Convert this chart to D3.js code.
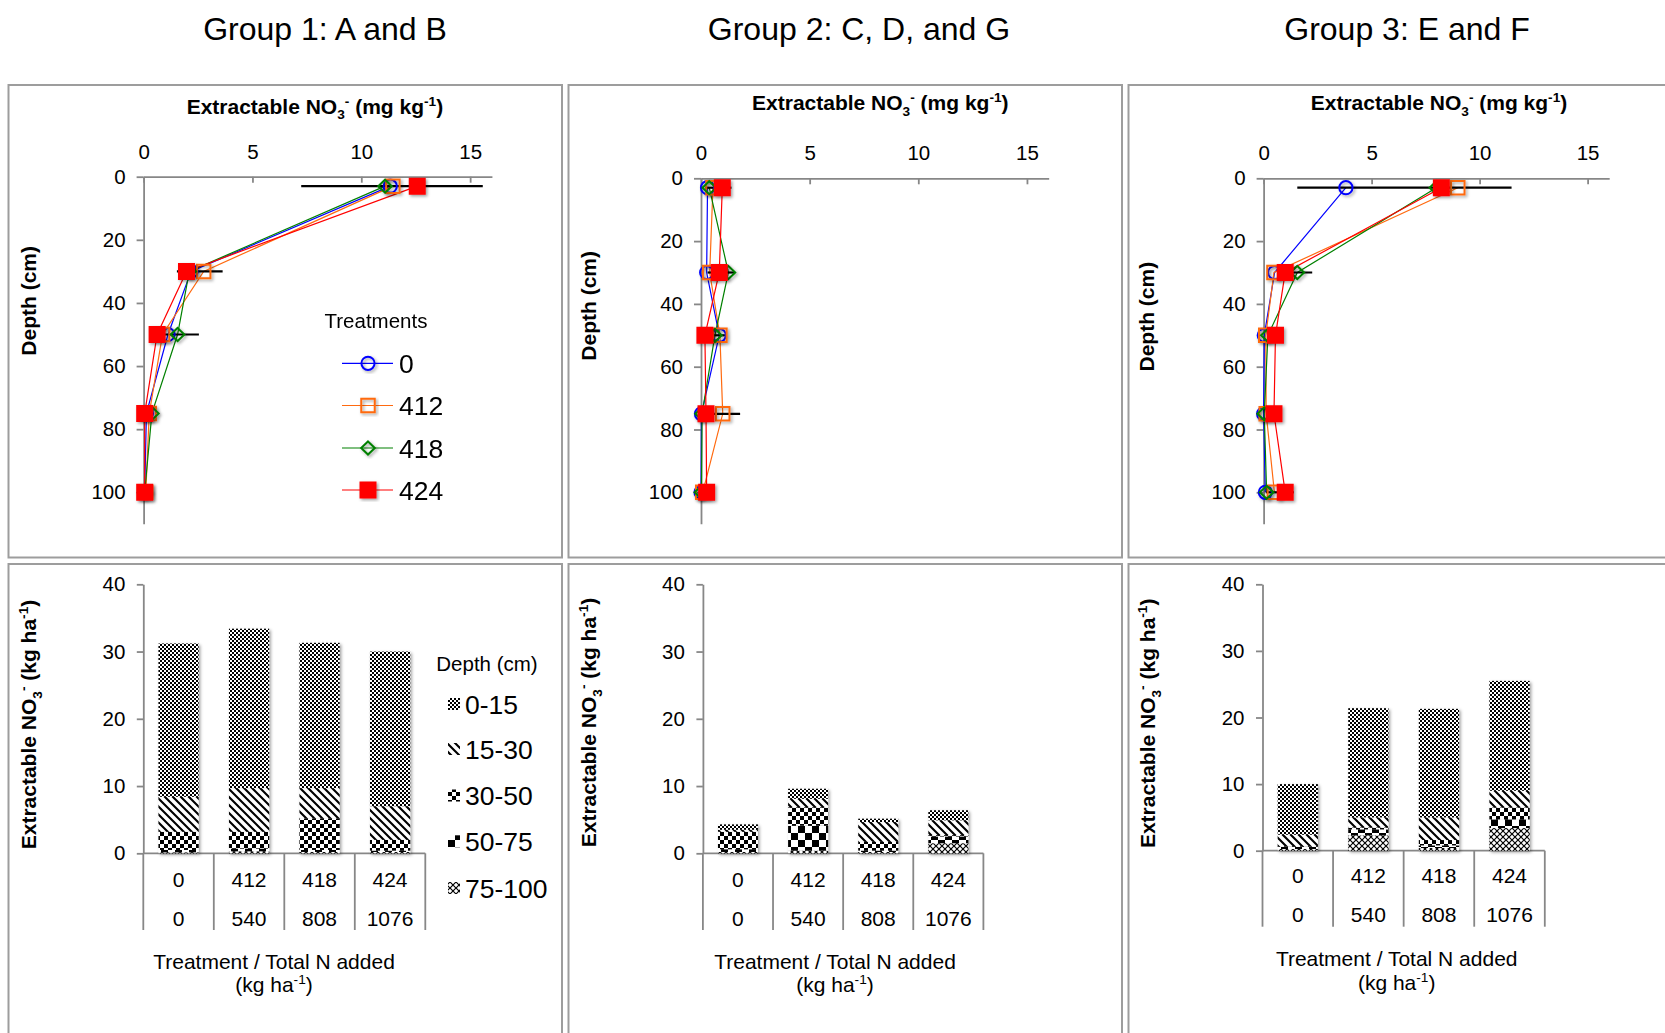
<!DOCTYPE html>
<html><head><meta charset="utf-8">
<script src="https://cdn.jsdelivr.net/npm/d3@7"></script>
<style>
html,body{margin:0;padding:0;background:#fff;}
svg{display:block;font-family:"Liberation Sans",Arial,Helvetica,sans-serif;}
</style></head><body>
<svg id="chart" width="1665" height="1033"></svg>
<script>
// ---------------- data ----------------
const groupTitles = ["Group 1: A and B", "Group 2: C, D, and G", "Group 3: E and F"];
const treatments = ["0", "412", "418", "424"];
const totalNAdded = ["0", "540", "808", "1076"];
const sampleDepths = [3, 30, 50, 75, 100];
const depthLayers = ["0-15", "15-30", "30-50", "50-75", "75-100"];
const depthTicks = [0, 20, 40, 60, 80, 100];
const no3Ticks = [0, 5, 10, 15];
const stockTicks = [0, 10, 20, 30, 40];

// NO3- concentration (mg kg-1): one row per treatment, one value per sample depth
const profileG1 = [
  [11.33, 2.18, 1.12, 0.13, 0.05],
  [11.45, 2.76, 0.87, 0.26, 0.10],
  [11.09, 2.10, 1.56, 0.38, 0.05],
  [12.57, 1.97, 0.62, 0.05, 0.05]
];
const profileG2 = [
  [0.30, 0.26, 0.84, 0.02, 0.00],
  [0.55, 0.40, 0.87, 1.00, 0.08],
  [0.38, 1.26, 0.64, 0.05, 0.02],
  [0.98, 0.84, 0.18, 0.23, 0.26]
];
const profileG3 = [
  [3.81, 0.51, 0.03, 0.00, 0.08],
  [8.99, 0.48, 0.10, 0.12, 0.50],
  [8.00, 1.56, 0.20, 0.03, 0.14],
  [8.23, 1.00, 0.55, 0.48, 1.00]
];

// error bars: [depth, low, high] (mg kg-1)
const errorsG1 = [[3, 7.24, 15.58], [30, 1.53, 3.63], [50, 0.98, 2.54]];
const errorsG2 = [[3, 0.20, 1.40], [30, 0.30, 1.56], [50, 0.60, 1.10], [75, 0.20, 1.80]];
const errorsG3 = [[3, 1.56, 11.48], [30, 0.80, 2.25], [100, 0.10, 1.40]];

// NO3- stock (kg ha-1): rows = treatments, columns = depth layers 0-15 ... 75-100
const stockG1 = [
  [22.8, 5.2, 2.7, 0.35, 0.15],
  [23.7, 6.5, 2.5, 0.40, 0.30],
  [21.6, 4.5, 4.7, 0.30, 0.20],
  [23.0, 5.0, 1.6, 0.20, 0.20]
];
const stockG2 = [
  [0.8, 0.3, 2.6, 0.4, 0.2],
  [1.5, 1.25, 2.75, 3.7, 0.4],
  [0.5, 2.95, 1.3, 0.2, 0.2],
  [1.5, 2.2, 0.2, 1.0, 1.5]
];
const stockG3 = [
  [7.6, 1.7, 0.1, 0.35, 0.25],
  [16.4, 1.5, 0.3, 0.9, 2.3],
  [16.3, 3.4, 0.8, 0.4, 0.4],
  [16.5, 2.5, 1.8, 1.3, 3.4]
];

// ---------------- styling / layout ----------------
const seriesColors = ["#0000FF", "#FF6A10", "#008000", "#FF0000"];
const axisColor = "#878787";
const FONT_TICK = 20.5, FONT_TITLE = 21;

const svg = d3.select("#chart");
const defs = svg.append("defs");

// shadow used for bars and markers
const sh = defs.append("filter").attr("id", "shadow").attr("x", "-30%").attr("y", "-30%").attr("width", "160%").attr("height", "160%");
sh.append("feDropShadow").attr("dx", 1.6).attr("dy", 1.6).attr("stdDeviation", 1.4)
  .attr("flood-color", "#000").attr("flood-opacity", 0.38);

// hatch patterns for the depth layers
function pattern(id, size) {
  const p = defs.append("pattern").attr("id", id).attr("patternUnits", "userSpaceOnUse")
    .attr("width", size).attr("height", size);
  p.append("rect").attr("width", size).attr("height", size).attr("fill", "#fff");
  return p;
}
{
  // 0-15: small checkerboard
  const p0 = pattern("pat0", 4);
  p0.append("rect").attr("width", 2).attr("height", 2).attr("fill", "#000");
  p0.append("rect").attr("x", 2).attr("y", 2).attr("width", 2).attr("height", 2).attr("fill", "#000");
  // 15-30: wide downward diagonal
  const p1 = pattern("pat1", 8);
  p1.append("path").attr("d", "M-4,4L4,12M0,0L8,8M4,-4L12,4").attr("stroke", "#000").attr("stroke-width", 2.1);
  // 30-50: large checkerboard
  const p2 = pattern("pat2", 8);
  p2.append("rect").attr("width", 4).attr("height", 4).attr("fill", "#000");
  p2.append("rect").attr("x", 4).attr("y", 4).attr("width", 4).attr("height", 4).attr("fill", "#000");
  // 50-75: very large checkerboard
  const p3 = pattern("pat3", 14);
  p3.append("rect").attr("width", 7).attr("height", 7).attr("fill", "#000");
  p3.append("rect").attr("x", 7).attr("y", 7).attr("width", 7).attr("height", 7).attr("fill", "#000");
  // 75-100: dotted diamond grid
  const p4 = pattern("pat4", 6);
  p4.append("path").attr("d", "M0,0L6,6M6,0L0,6").attr("stroke", "#000").attr("stroke-width", 1.2);
}

// text with sub/superscripts
function rich(sel, parts, size) {
  let off = 0;
  parts.forEach(p => {
    let target = 0, fs = size;
    if (p[1] === "sub") { target = size * 0.28; fs = size * 0.65; }
    else if (p[1] === "sup") { target = -size * 0.38; fs = size * 0.65; }
    sel.append("tspan").attr("dy", target - off).style("font-size", fs + "px").text(p[0]);
    off = target;
  });
}

function styleAxis(g, fs) {
  g.selectAll(".domain").attr("stroke", axisColor).attr("stroke-width", 1.8);
  g.selectAll(".tick line").attr("stroke", axisColor).attr("stroke-width", 1.8);
  g.selectAll(".tick text").attr("fill", "#000").style("font-size", fs + "px")
    .style("font-family", '"Liberation Sans",Arial,sans-serif');
}

// panel frames
const panelX = [8.5, 568.5, 1128.5];
panelX.forEach(px => {
  svg.append("rect").attr("x", px).attr("y", 85).attr("width", 553.5).attr("height", 472.5)
    .attr("fill", "none").attr("stroke", "#9d9d9d").attr("stroke-width", 2);
  svg.append("rect").attr("x", px).attr("y", 564).attr("width", 553.5).attr("height", 490)
    .attr("fill", "none").attr("stroke", "#9d9d9d").attr("stroke-width", 2);
});

// group titles
const titleX = [325, 859, 1407];
groupTitles.forEach((t, i) => {
  svg.append("text").attr("x", titleX[i]).attr("y", 40).attr("text-anchor", "middle")
    .style("font-size", "32px").attr("fill", "#000").text(t);
});

// ---------------- depth profiles ----------------
const profileLayout = [
  { x0: 143.6, ux: 21.77, y0: 176.7, uy: 3.156, tx: 314.9, ty: 113.5, yt: [28.7, 300.8] },
  { x0: 701.0, ux: 21.73, y0: 178.3, uy: 3.140, tx: 880.3, ty: 110.2, yt: [588.6, 305.8] },
  { x0: 1263.6, ux: 21.60, y0: 178.3, uy: 3.140, tx: 1439, ty: 110.2, yt: [1146.5, 316.7] }
];
const markerTypes = [
  { type: d3.symbolCircle, size: Math.PI * 6.6 * 6.6, fill: "none" },
  { type: d3.symbolSquare, size: 13.5 * 13.5, fill: "none" },
  { type: { draw(ctx, size) { const r = Math.sqrt(size) / 2; ctx.moveTo(0, -r); ctx.lineTo(r * 1.05, 0); ctx.lineTo(0, r); ctx.lineTo(-r * 1.05, 0); ctx.closePath(); } }, size: 13 * 13, fill: "none" },
  { type: d3.symbolSquare, size: 15 * 15, fill: "#FF0000" }
];

function drawProfile(L, profile, errors, withLegend) {
  const g = svg.append("g");
  const x = d3.scaleLinear().domain([0, 16]).range([L.x0, L.x0 + 16 * L.ux]);
  const y = d3.scaleLinear().domain([0, 110]).range([L.y0, L.y0 + 110 * L.uy]);

  g.append("g").attr("transform", `translate(0,${L.y0})`)
    .call(d3.axisTop(x).tickValues(no3Ticks).tickSize(-6).tickSizeOuter(0).tickPadding(18))
    .call(a => styleAxis(a, FONT_TICK));
  g.append("g").attr("transform", `translate(${L.x0},0)`)
    .call(d3.axisLeft(y).tickValues(depthTicks).tickSize(7).tickSizeOuter(0).tickPadding(11))
    .call(a => styleAxis(a, FONT_TICK));

  // axis titles
  const t = g.append("text").attr("x", L.tx).attr("y", L.ty).attr("text-anchor", "middle")
    .style("font-weight", "bold").attr("fill", "#000");
  rich(t, [["Extractable NO"], ["3", "sub"], ["-", "sup"], [" (mg kg"], ["-1", "sup"], [")"]], FONT_TITLE);
  g.append("text").attr("transform", `translate(${L.yt[0] + 7.5},${L.yt[1]}) rotate(-90)`)
    .attr("text-anchor", "middle").style("font-weight", "bold").style("font-size", FONT_TITLE + "px")
    .attr("fill", "#000").text("Depth (cm)");

  const line = d3.line().x(d => x(d[1])).y(d => y(d[0]));
  profile.forEach((vals, s) => {
    const pts = sampleDepths.map((d, k) => [d, vals[k]]);
    g.append("path").attr("d", line(pts)).attr("fill", "none")
      .attr("stroke", seriesColors[s]).attr("stroke-width", 1.2);
  });

  // error bars
  g.selectAll(".err").data(errors).enter().append("line")
    .attr("x1", d => x(d[1])).attr("x2", d => x(d[2]))
    .attr("y1", d => y(d[0])).attr("y2", d => y(d[0]))
    .attr("stroke", "#000").attr("stroke-width", 2.2);

  profile.forEach((vals, s) => {
    const m = markerTypes[s];
    const sym = d3.symbol().type(m.type).size(m.size);
    g.append("g").attr("filter", "url(#shadow)").selectAll("path")
      .data(sampleDepths.map((d, k) => [d, vals[k]])).enter().append("path")
      .attr("transform", d => `translate(${x(d[1])},${y(d[0])})`)
      .attr("d", sym).attr("fill", m.fill).attr("stroke", seriesColors[s]).attr("stroke-width", 2);
  });

  if (withLegend) {
    const lg = g.append("g");
    lg.append("text").attr("x", 376).attr("y", 328).attr("text-anchor", "middle")
      .style("font-size", "20.5px").attr("fill", "#000").text("Treatments");
    const rowY = [363.3, 405.5, 448, 490];
    treatments.forEach((tr, s) => {
      const m = markerTypes[s];
      lg.append("line").attr("x1", 342).attr("x2", 393).attr("y1", rowY[s]).attr("y2", rowY[s])
        .attr("stroke", seriesColors[s]).attr("stroke-width", 1.2);
      lg.append("path").attr("transform", `translate(368,${rowY[s]})`).attr("filter", "url(#shadow)")
        .attr("d", d3.symbol().type(m.type).size(m.size)).attr("fill", m.fill)
        .attr("stroke", seriesColors[s]).attr("stroke-width", 2);
      lg.append("text").attr("x", 399).attr("y", rowY[s] + 9.5).style("font-size", "26.5px")
        .attr("fill", "#000").text(tr);
    });
  }
}

drawProfile(profileLayout[0], profileG1, errorsG1, true);
drawProfile(profileLayout[1], profileG2, errorsG2, false);
drawProfile(profileLayout[2], profileG3, errorsG3, false);

// ---------------- stacked depth-layer stocks ----------------
const stockLayout = [
  { bx0: 143.3, bw: 282.0, y0: 853.3, y40: 584.3, rows: [887.2, 925.5], catBottom: 930, xt: [274, 968.7, 991.7], yt: [28.7, 724.5] },
  { bx0: 702.9, bw: 280.5, y0: 853.3, y40: 584.3, rows: [887.2, 925.5], catBottom: 930, xt: [835, 968.7, 991.7], yt: [588.6, 722.5] },
  { bx0: 1262.5, bw: 282.3, y0: 850.7, y40: 584.3, rows: [883.2, 922.2], catBottom: 926.7, xt: [1396.7, 966.2, 989.9], yt: [1147.8, 723.3] }
];

function drawStock(L, stock, withLegend) {
  const g = svg.append("g");
  const x = d3.scaleBand().domain(treatments).range([L.bx0, L.bx0 + L.bw]).paddingInner(0).paddingOuter(0);
  const y = d3.scaleLinear().domain([0, 40]).range([L.y0, L.y40]);

  // category table (two label rows)
  g.append("line").attr("x1", L.bx0).attr("x2", L.bx0 + L.bw).attr("y1", L.y0).attr("y2", L.y0)
    .attr("stroke", axisColor).attr("stroke-width", 1.8);
  d3.range(treatments.length + 1).forEach(i => {
    const xx = L.bx0 + i * x.bandwidth();
    g.append("line").attr("x1", xx).attr("x2", xx).attr("y1", L.y0).attr("y2", L.catBottom)
      .attr("stroke", axisColor).attr("stroke-width", 1.8);
  });
  treatments.forEach((tr, i) => {
    const cx = x(tr) + x.bandwidth() / 2;
    g.append("text").attr("x", cx).attr("y", L.rows[0]).attr("text-anchor", "middle")
      .style("font-size", "21px").attr("fill", "#000").text(tr);
    g.append("text").attr("x", cx).attr("y", L.rows[1]).attr("text-anchor", "middle")
      .style("font-size", "21px").attr("fill", "#000").text(totalNAdded[i]);
  });

  g.append("g").attr("transform", `translate(${L.bx0},0)`)
    .call(d3.axisLeft(y).tickValues(stockTicks).tickSize(6.5).tickSizeOuter(0).tickPadding(11.5))
    .call(a => styleAxis(a, FONT_TICK));

  // stacked bars, deepest layer at the bottom
  const stacked = d3.stack().keys([4, 3, 2, 1, 0]).value((d, k) => d[k])(stock);
  const bw = x.bandwidth() * 0.57;
  const bars = g.append("g").attr("filter", "url(#shadow)");
  stacked.forEach(layer => {
    bars.selectAll(null).data(layer).enter().append("rect")
      .attr("x", (d, i) => x(treatments[i]) + x.bandwidth() / 2 - bw / 2)
      .attr("width", bw)
      .attr("y", d => y(d[1]))
      .attr("height", d => y(d[0]) - y(d[1]))
      .attr("fill", `url(#pat${layer.key})`);
  });

  // axis titles
  const yt = g.append("text").attr("transform", `translate(${L.yt[0] + 7.5},${L.yt[1]}) rotate(-90)`)
    .attr("text-anchor", "middle").style("font-weight", "bold").attr("fill", "#000");
  rich(yt, [["Extractable NO"], ["3", "sub"], ["-", "sup"], [" (kg ha"], ["-1", "sup"], [")"]], FONT_TITLE);
  g.append("text").attr("x", L.xt[0]).attr("y", L.xt[1]).attr("text-anchor", "middle")
    .style("font-size", "21px").attr("fill", "#000").text("Treatment  / Total N added");
  const xt2 = g.append("text").attr("x", L.xt[0]).attr("y", L.xt[2]).attr("text-anchor", "middle").attr("fill", "#000");
  rich(xt2, [["(kg ha"], ["-1", "sup"], [")"]], 21);

  if (withLegend) {
    g.append("text").attr("x", 487).attr("y", 671).attr("text-anchor", "middle")
      .style("font-size", "20.5px").attr("fill", "#000").text("Depth (cm)");
    const rowY = [704, 749, 795.5, 841.3, 888];
    depthLayers.forEach((lab, k) => {
      g.append("rect").attr("x", 448).attr("y", rowY[k] - 6).attr("width", 12).attr("height", 12)
        .attr("fill", `url(#pat${k})`);
      g.append("text").attr("x", 465).attr("y", rowY[k] + 9.5).style("font-size", "26.5px")
        .attr("fill", "#000").text(lab);
    });
  }
}

drawStock(stockLayout[0], stockG1, true);
drawStock(stockLayout[1], stockG2, false);
drawStock(stockLayout[2], stockG3, false);
</script>
</body></html>
